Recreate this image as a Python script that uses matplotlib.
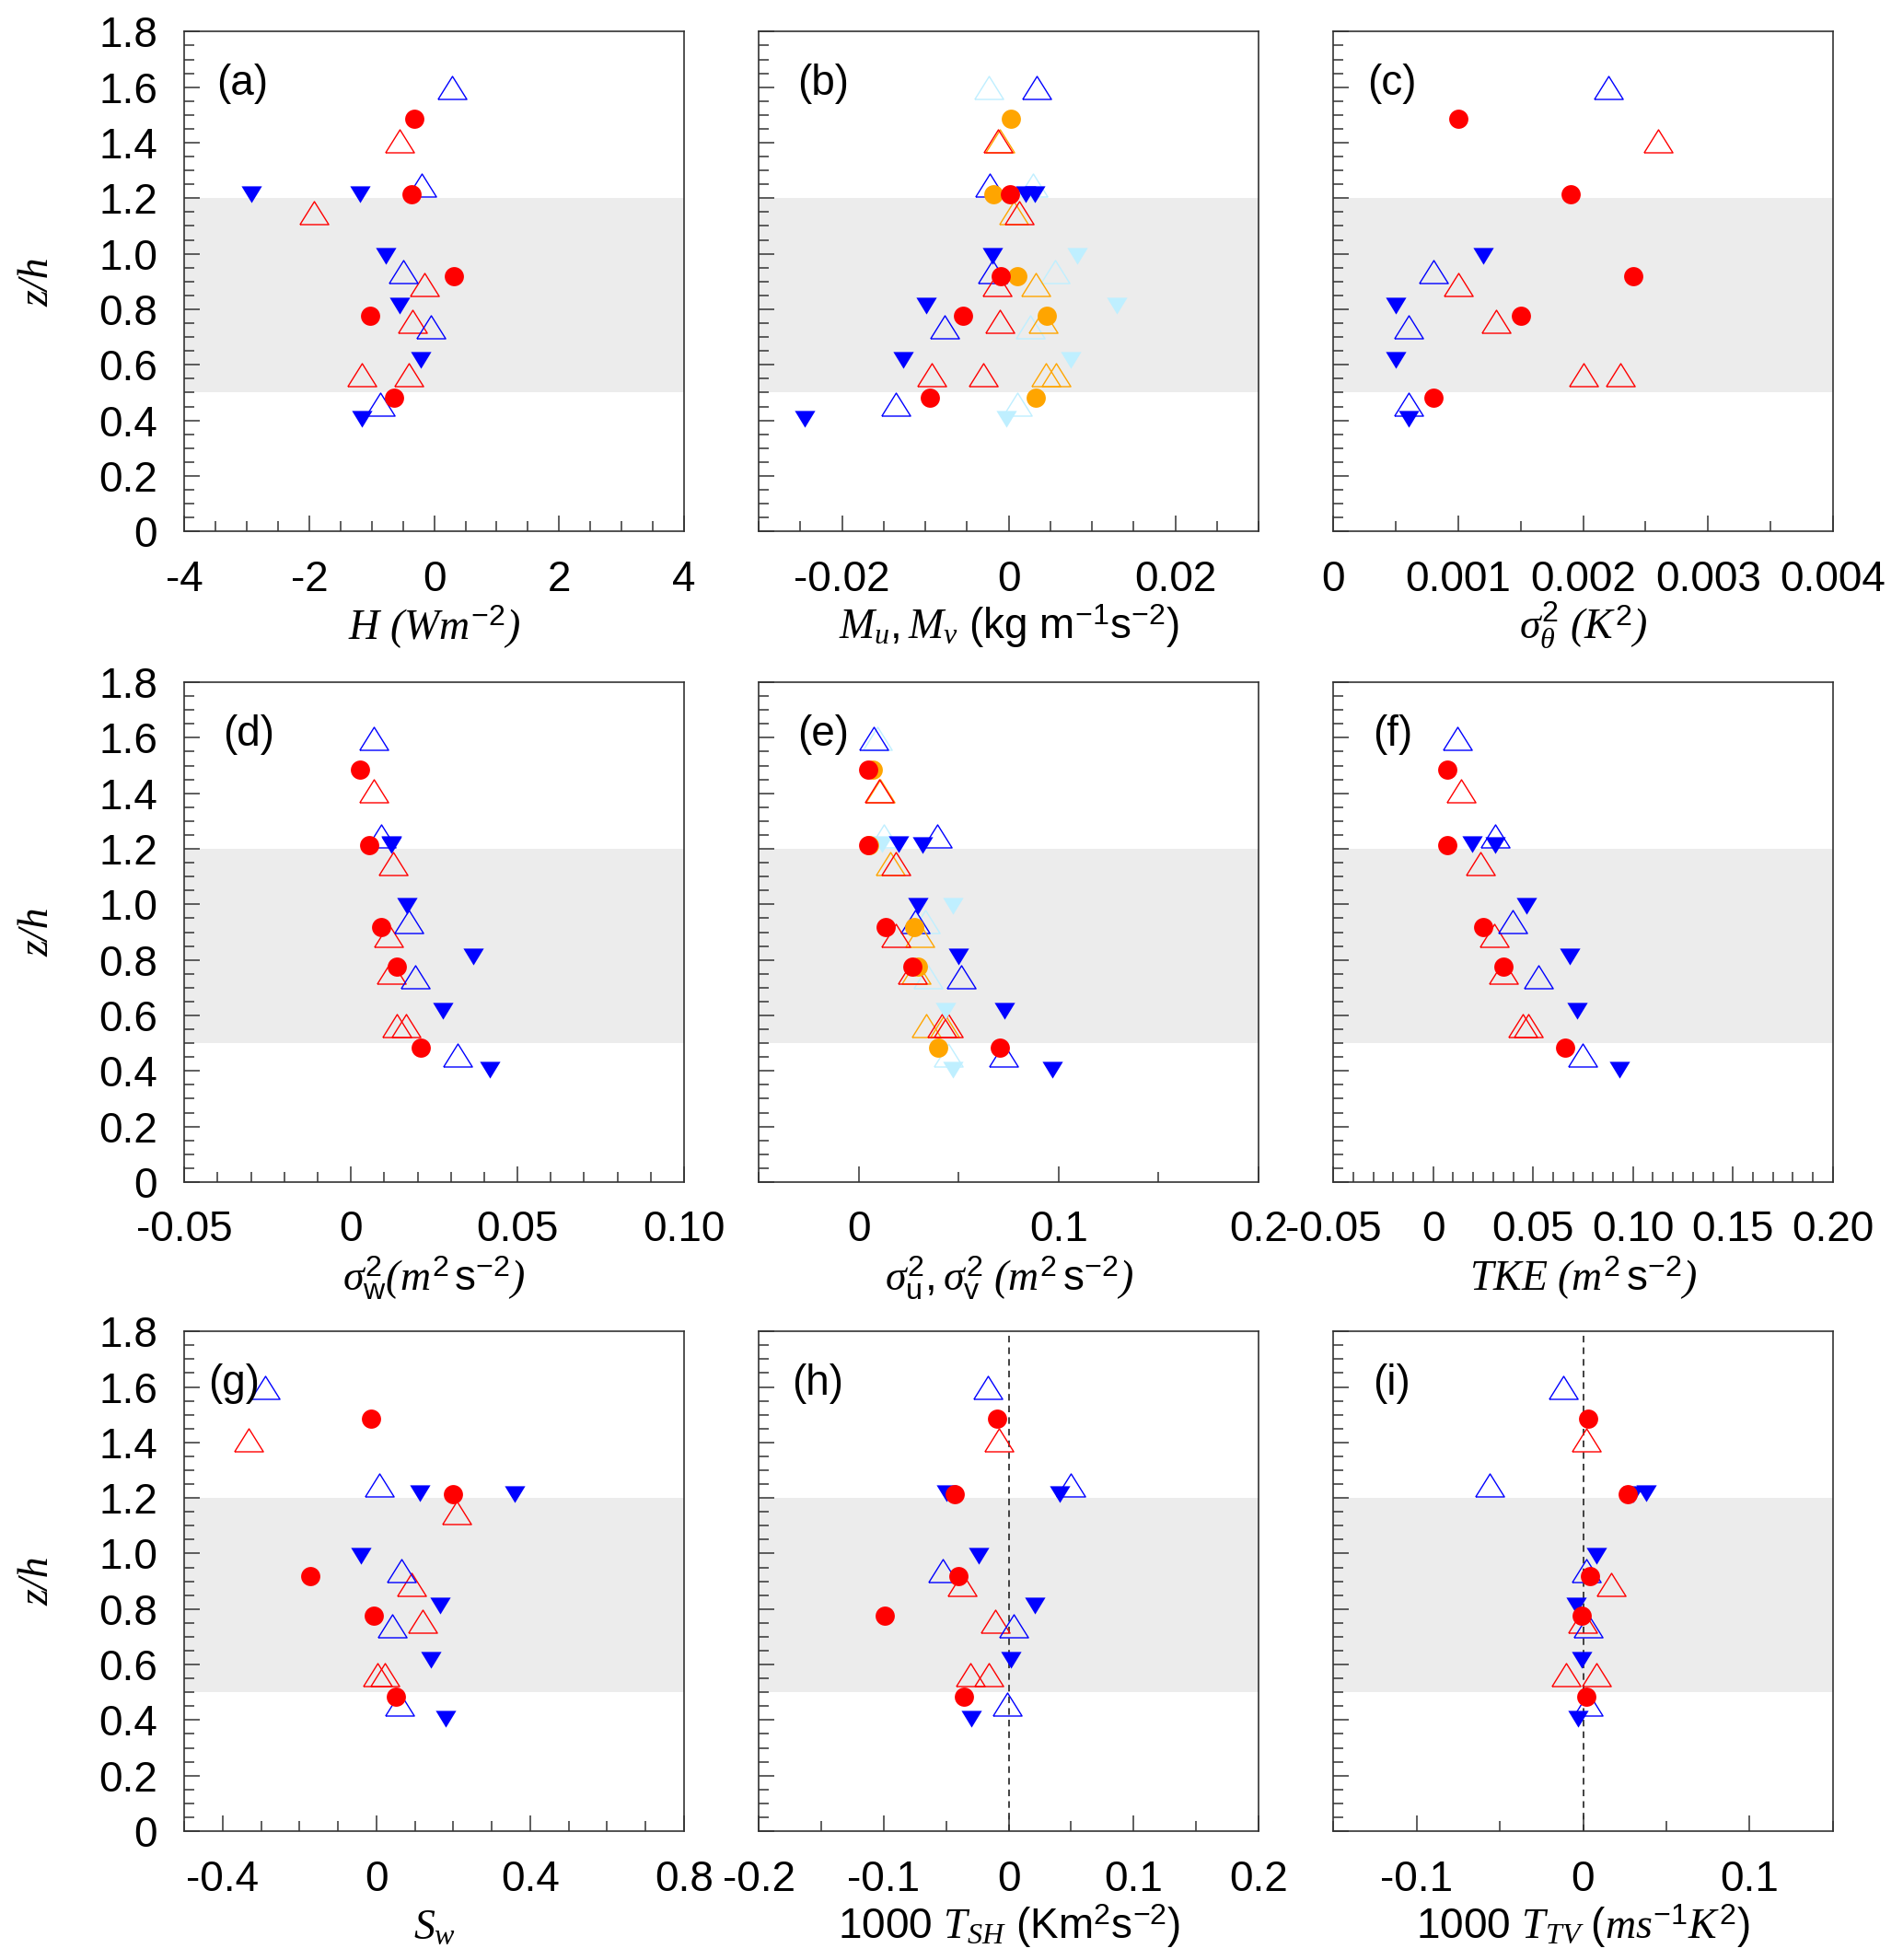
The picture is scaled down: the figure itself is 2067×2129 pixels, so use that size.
import numpy as np
import matplotlib
matplotlib.use("Agg")
import matplotlib.pyplot as plt
from matplotlib.ticker import FixedLocator

nan = np.nan

# ---------------- data ----------------
# heights z/h of each series
z_red_circle = [1.485, 1.215, 0.918, 0.775, 0.483]
z_red_tri = [1.408, 1.148, 0.889, 0.757, 0.565, 0.565]
z_blue_tri = [1.598, 1.247, 0.937, 0.738, 0.458]
z_blue_down = [1.216, 1.213, 0.993, 0.812, 0.616, 0.405]

# (a) H
a_red_circle = [-0.32, -0.36, 0.32, -1.03, -0.64]
a_red_tri = [-0.55, -1.93, -0.15, -0.35, -1.16, -0.40]
a_blue_tri = [0.29, -0.20, -0.50, -0.06, -0.87]
a_blue_down = [-2.93, -1.19, -0.77, -0.55, -0.22, -1.16]

# (b) Mu (red/blue), Mv (orange/light blue)
b_red_circle = [nan, 0.0002, -0.0009, -0.0055, -0.0095]
b_orange_circle = [0.0003, -0.0018, 0.0010, 0.0046, 0.0032]
b_red_tri = [-0.0013, 0.0013, -0.0014, -0.0011, -0.0092, -0.0031]
b_orange_tri = [-0.0011, 0.0006, 0.0032, 0.0041, 0.0045, 0.0057]
b_blue_tri = [0.0034, -0.0023, -0.0020, -0.0077, -0.0136]
b_lblue_tri = [-0.0024, 0.0029, 0.0056, 0.0026, 0.0010]
b_blue_down = [0.0020, 0.0031, -0.0020, -0.0099, -0.0127, -0.0245]
b_lblue_down = [0.0030, nan, 0.0082, 0.0130, 0.0075, -0.0003]

# (c) sigma_theta^2
c_red_circle = [0.0010, 0.0019, 0.0024, 0.0015, 0.0008]
c_red_tri = [0.0026, nan, 0.0010, 0.0013, 0.0020, 0.0023]
c_blue_tri = [0.0022, nan, 0.0008, 0.0006, 0.0006]
c_blue_down = [nan, nan, 0.0012, 0.0005, 0.0005, 0.0006]

# (d) sigma_w^2
d_red_circle = [0.0027, 0.0054, 0.0090, 0.0139, 0.0209]
d_red_tri = [0.0070, 0.0126, 0.0113, 0.0121, 0.0137, 0.0166]
d_blue_tri = [0.0070, 0.0090, 0.0173, 0.0193, 0.0319]
d_blue_down = [0.0121, 0.0121, 0.0169, 0.0367, 0.0276, 0.0417]

# (e) sigma_u^2 (red/blue), sigma_v^2 (orange/light blue)
e_red_circle = [0.0047, 0.0045, 0.0136, 0.0269, 0.0707]
e_orange_circle = [0.0072, 0.0050, 0.0277, 0.0295, 0.0399]
e_red_tri = [0.0101, 0.0184, 0.0184, 0.0266, 0.0417, 0.0450]
e_orange_tri = [0.0105, 0.0159, 0.0304, 0.0287, 0.0339, 0.0430]
e_blue_tri = [0.0074, 0.0393, 0.0281, 0.0514, 0.0723]
e_lblue_tri = [0.0091, 0.0124, 0.0333, 0.0347, 0.0450]
e_blue_down = [0.0200, 0.0320, 0.0297, 0.0498, 0.0731, 0.0969]
e_lblue_down = [0.0114, nan, 0.0469, nan, 0.0436, 0.0473]

# (f) TKE
f_red_circle = [0.0072, 0.0072, 0.0252, 0.0350, 0.0661]
f_red_tri = [0.0140, 0.0238, 0.0306, 0.0351, 0.0450, 0.0477]
f_blue_tri = [0.0121, 0.0311, 0.0399, 0.0528, 0.0747]
f_blue_down = [0.0193, 0.0312, 0.0469, 0.0684, 0.0720, 0.0933]

# (g) S_w
g_red_circle = [-0.014, 0.198, -0.173, -0.006, 0.051]
g_red_tri = [-0.334, 0.209, 0.092, 0.120, 0.002, 0.022]
g_blue_tri = [-0.290, 0.007, 0.064, 0.041, 0.059]
g_blue_down = [0.112, 0.360, -0.041, 0.165, 0.141, 0.179]

# (h) 1000 T_SH
h_red_circle = [-0.009, -0.043, -0.040, -0.099, -0.036]
h_red_tri = [-0.008, nan, -0.037, -0.011, -0.031, -0.016]
h_blue_tri = [-0.017, 0.050, -0.053, 0.004, -0.0015]
h_blue_down = [-0.050, 0.041, -0.024, 0.021, 0.002, -0.030]

# (i) 1000 T_TV
i_red_circle = [0.003, 0.027, 0.004, -0.001, 0.002]
i_red_tri = [0.002, nan, 0.017, -0.0005, -0.010, 0.008]
i_blue_tri = [-0.012, -0.056, 0.002, 0.003, 0.003]
i_blue_down = [0.038, 0.030, 0.008, -0.004, -0.001, -0.003]

# axis ticks / labels
y_ticks = [0, 0.2, 0.4, 0.6, 0.8, 1.0, 1.2, 1.4, 1.6, 1.8]
y_ticklabels = ["0", "0.2", "0.4", "0.6", "0.8", "1.0", "1.2", "1.4", "1.6", "1.8"]

a_xticks = [-4, -2, 0, 2, 4]
a_xlabels = ["-4", "-2", "0", "2", "4"]
b_xticks = [-0.02, 0, 0.02]
b_xlabels = ["-0.02", "0", "0.02"]
c_xticks = [0, 0.001, 0.002, 0.003, 0.004]
c_xlabels = ["0", "0.001", "0.002", "0.003", "0.004"]
d_xticks = [-0.05, 0, 0.05, 0.10]
d_xlabels = ["-0.05", "0", "0.05", "0.10"]
e_xticks = [0, 0.1, 0.2]
e_xlabels = ["0", "0.1", "0.2"]
f_xticks = [-0.05, 0, 0.05, 0.10, 0.15, 0.20]
f_xlabels = ["-0.05", "0", "0.05", "0.10", "0.15", "0.20"]
g_xticks = [-0.4, 0, 0.4, 0.8]
g_xlabels = ["-0.4", "0", "0.4", "0.8"]
h_xticks = [-0.2, -0.1, 0, 0.1, 0.2]
h_xlabels = ["-0.2", "-0.1", "0", "0.1", "0.2"]
i_xticks = [-0.1, 0, 0.1]
i_xlabels = ["-0.1", "0", "0.1"]

# ---------------- style ----------------
plt.rcParams["font.family"] = ["Liberation Sans", "DejaVu Sans"]
plt.rcParams["mathtext.fontset"] = "custom"
plt.rcParams["mathtext.rm"] = "Liberation Sans"
plt.rcParams["mathtext.sf"] = "Liberation Sans"
plt.rcParams["mathtext.it"] = "Liberation Serif:italic"
plt.rcParams["mathtext.bf"] = "Liberation Sans:bold"
plt.rcParams["axes.unicode_minus"] = False

RED = "#ff0000"
BLUE = "#0000ff"
ORANGE = "#ffa500"
LBLUE = "#bfefff"
BAND = "#ececec"
FRAME = "#333333"
FS = 33
SERIF_IT = dict(family=["Liberation Serif", "DejaVu Serif"], style="italic")

TRI_UP = [(-1, -0.8), (1, -0.8), (0, 0.8), (-1, -0.8)]
TRI_DOWN = [(-1, 0.82), (1, 0.82), (0, -0.82), (-1, 0.82)]

fig = plt.figure(figsize=(20.67, 21.29), dpi=100)
W, H = 2067.0, 2129.0
col_left = [200.2, 824.2, 1448.1]
row_top = [34.4, 741.1, 1446.2]
size = 542.8


def make_ax(r, c):
    return fig.add_axes([col_left[c] / W, 1 - (row_top[r] + size) / H, size / W, size / H])


def series(ax, x, z, kind, color):
    if kind == "circle":
        ax.plot(x, z, ls="none", marker="o", ms=15, mfc=color, mec="none", zorder=6)
    elif kind == "tri":
        ax.plot(x, z, ls="none", marker=TRI_UP, ms=22.5, mfc="none", mec=color, mew=1.0, zorder=4)
    else:
        ax.plot(x, z, ls="none", marker=TRI_DOWN, ms=16, mfc=color, mec="none", zorder=5)


panels = [
    dict(letter="(a)", lx=0.065, xlim=(-4, 4), minor=0.5, ticks=a_xticks, labels=a_xlabels,
         xlabel=r"$H$ ($Wm^{-2}$)", serif=True,
         s=[("tri", a_red_tri, z_red_tri, RED), ("tri", a_blue_tri, z_blue_tri, BLUE),
            ("down", a_blue_down, z_blue_down, BLUE), ("circle", a_red_circle, z_red_circle, RED)]),
    dict(letter="(b)", lx=0.077, xlim=(-0.03, 0.03), minor=0.005, ticks=b_xticks, labels=b_xlabels,
         xlabel=r"$M_u, M_v$ (kg m$^{\mathregular{-1}}$s$^{\mathregular{-2}}$)",
         s=[("tri", b_lblue_tri, z_blue_tri, LBLUE), ("down", b_lblue_down, z_blue_down, LBLUE),
            ("tri", b_blue_tri, z_blue_tri, BLUE), ("down", b_blue_down, z_blue_down, BLUE),
            ("tri", b_orange_tri, z_red_tri, ORANGE), ("tri", b_red_tri, z_red_tri, RED),
            ("circle", b_orange_circle, z_red_circle, ORANGE), ("circle", b_red_circle, z_red_circle, RED)]),
    dict(letter="(c)", lx=0.068, xlim=(0, 0.004), minor=0.0005, ticks=c_xticks, labels=c_xlabels,
         xlabel=r"$\sigma^2_\theta$ ($K^2$)", serif=True,
         s=[("tri", c_red_tri, z_red_tri, RED), ("tri", c_blue_tri, z_blue_tri, BLUE),
            ("down", c_blue_down, z_blue_down, BLUE), ("circle", c_red_circle, z_red_circle, RED)]),
    dict(letter="(d)", lx=0.078, xlim=(-0.05, 0.10), minor=0.01, ticks=d_xticks, labels=d_xlabels,
         xlabel=r"$\sigma^2_{\mathrm{w}}$($m^2\,\mathrm{s}^{-2}$)", serif=True,
         s=[("tri", d_red_tri, z_red_tri, RED), ("tri", d_blue_tri, z_blue_tri, BLUE),
            ("down", d_blue_down, z_blue_down, BLUE), ("circle", d_red_circle, z_red_circle, RED)]),
    dict(letter="(e)", lx=0.077, xlim=(-0.05, 0.2), minor=0.05, ticks=e_xticks, labels=e_xlabels,
         xlabel=r"$\sigma^2_{\mathrm{u}}, \sigma^2_{\mathrm{v}}$ ($m^2\,\mathrm{s}^{-2}$)", serif=True,
         s=[("tri", e_lblue_tri, z_blue_tri, LBLUE), ("down", e_lblue_down, z_blue_down, LBLUE),
            ("tri", e_blue_tri, z_blue_tri, BLUE), ("down", e_blue_down, z_blue_down, BLUE),
            ("tri", e_orange_tri, z_red_tri, ORANGE), ("tri", e_red_tri, z_red_tri, RED),
            ("circle", e_orange_circle, z_red_circle, ORANGE), ("circle", e_red_circle, z_red_circle, RED)]),
    dict(letter="(f)", lx=0.079, xlim=(-0.05, 0.20), minor=0.01, ticks=f_xticks, labels=f_xlabels,
         xlabel=r"$TKE$ ($m^2\,\mathrm{s}^{-2}$)", serif=True,
         s=[("tri", f_red_tri, z_red_tri, RED), ("tri", f_blue_tri, z_blue_tri, BLUE),
            ("down", f_blue_down, z_blue_down, BLUE), ("circle", f_red_circle, z_red_circle, RED)]),
    dict(letter="(g)", lx=0.047, xlim=(-0.5, 0.8), minor=0.1, ticks=g_xticks, labels=g_xlabels,
         xlabel=r"$S_w$",
         s=[("tri", g_red_tri, z_red_tri, RED), ("tri", g_blue_tri, z_blue_tri, BLUE),
            ("down", g_blue_down, z_blue_down, BLUE), ("circle", g_red_circle, z_red_circle, RED)]),
    dict(letter="(h)", lx=0.066, xlim=(-0.2, 0.2), minor=0.05, ticks=h_xticks, labels=h_xlabels,
         xlabel=r"1000 $T_{SH}$ (Km$^{\mathregular{2}}$s$^{\mathregular{-2}}$)", zero=True,
         s=[("tri", h_red_tri, z_red_tri, RED), ("tri", h_blue_tri, z_blue_tri, BLUE),
            ("down", h_blue_down, z_blue_down, BLUE), ("circle", h_red_circle, z_red_circle, RED)]),
    dict(letter="(i)", lx=0.079, xlim=(-0.15, 0.15), minor=0.05, ticks=i_xticks, labels=i_xlabels,
         xlabel=r"1000 $T_{TV}\ (ms^{-1}K^2)$", zero=True,
         s=[("tri", i_red_tri, z_red_tri, RED), ("tri", i_blue_tri, z_blue_tri, BLUE),
            ("down", i_blue_down, z_blue_down, BLUE), ("circle", i_red_circle, z_red_circle, RED)]),
]

for k, p in enumerate(panels):
    r, c = divmod(k, 3)
    ax = make_ax(r, c)
    ax.set_xlim(*p["xlim"])
    ax.set_ylim(0, 1.8)
    ax.axhspan(0.5, 1.2, color=BAND, lw=0, zorder=0)
    if p.get("zero"):
        ax.axvline(0, color=FRAME, ls=(0, (4, 3)), lw=1.3, zorder=1)
    for kind, x, z, col in p["s"]:
        series(ax, x, z, kind, col)

    # x ticks
    lo, hi = p["xlim"]
    step = p["minor"]
    n = int(round((hi - lo) / step))
    minor = [lo + i * step for i in range(n + 1)]
    ax.xaxis.set_major_locator(FixedLocator(p["ticks"]))
    ax.set_xticklabels(p["labels"])
    ax.xaxis.set_minor_locator(FixedLocator(minor))
    # y ticks
    ax.yaxis.set_major_locator(FixedLocator(y_ticks))
    ax.yaxis.set_minor_locator(FixedLocator([i * 0.05 for i in range(37)]))
    if c == 0:
        ax.set_yticklabels(y_ticklabels)
        ax.set_ylabel("z/h", fontsize=FS, **SERIF_IT)
        ax.yaxis.set_label_coords(-0.293, 0.5)
        ax.yaxis.label.set_va("center")
    else:
        ax.set_yticklabels([])

    ax.tick_params(which="both", direction="in", top=False, right=False, colors=FRAME,
                   labelcolor="black", width=1.1)
    ax.tick_params(which="major", length=12, labelsize=FS)
    ax.tick_params(which="minor", length=8)
    ax.tick_params(axis="x", which="major", pad=22)
    ax.tick_params(axis="y", which="major", pad=21)
    for sp in ax.spines.values():
        sp.set_color(FRAME)
        sp.set_linewidth(1.2)

    if p.get("serif"):
        ax.set_xlabel(p["xlabel"], fontsize=FS, **SERIF_IT)
    else:
        ax.set_xlabel(p["xlabel"], fontsize=FS)
    ax.xaxis.set_label_coords(0.5, -0.216)
    ax.xaxis.label.set_va("baseline")

    ax.text(p["lx"], 0.895, p["letter"], transform=ax.transAxes, fontsize=FS,
            ha="left", va="center", zorder=7)

fig.savefig("out.png", dpi=100, facecolor="white")
